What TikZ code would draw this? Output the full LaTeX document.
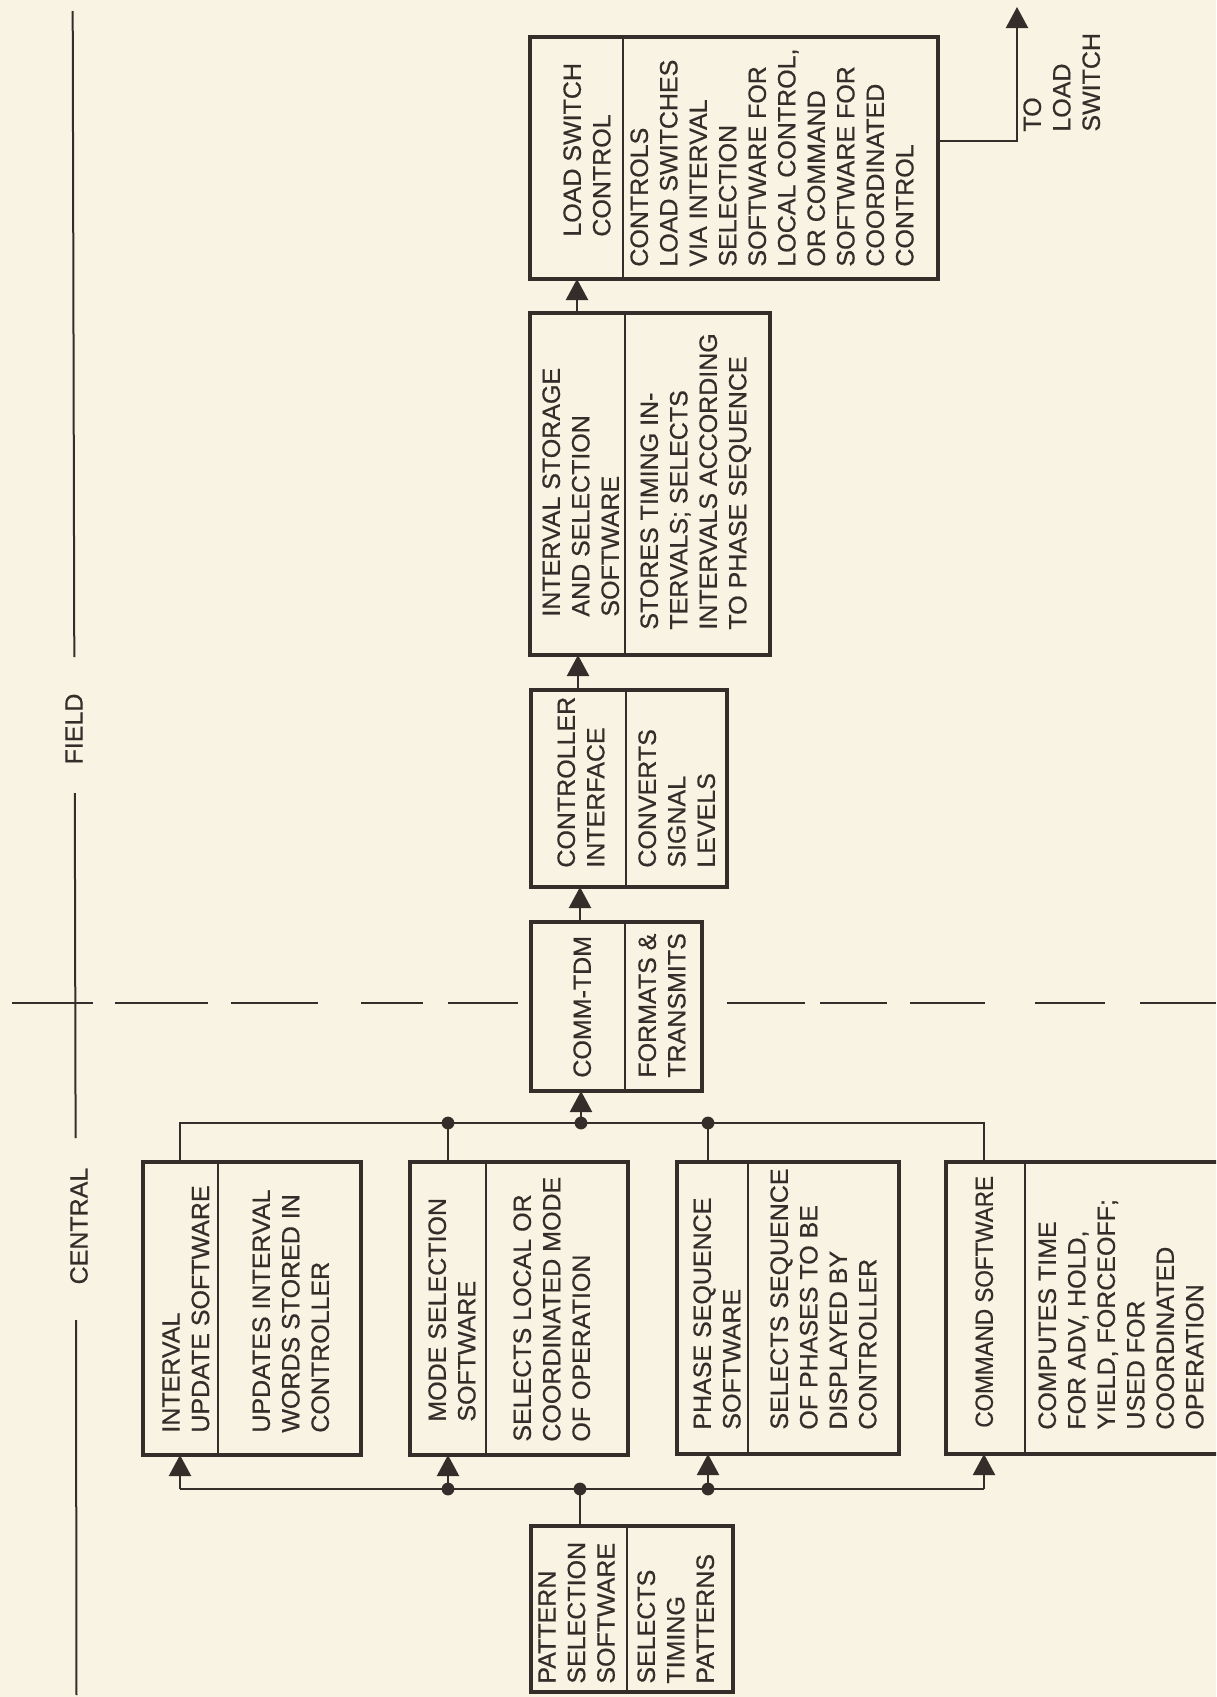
\documentclass[tikz,border=0pt]{standalone}
\usepackage{fontspec}
\usepackage{graphicx}
\setmainfont[FakeBold=0.6]{Liberation Sans}
\usetikzlibrary{arrows.meta,fit}
\definecolor{bg}{RGB}{248,243,226}
\definecolor{ink}{RGB}{52,45,42}
\begin{document}
\begin{tikzpicture}[x=0.5pt,y=-0.5pt,
  box/.style={draw=ink,line width=1.8pt,fill=bg,inner sep=0pt,outer sep=0pt},
  txt/.style={rotate=90,anchor=north west,inner sep=0pt,align=left,text=ink,font=\fontsize{12.5}{14.75}\selectfont},
  lbl/.style={rotate=90,inner sep=0pt,text=ink,font=\fontsize{12.5}{14.75}\selectfont},
  div/.style={draw=ink,line width=1.1pt},
  con/.style={draw=ink,line width=1.1pt},
  arr/.style={con,-{Triangle[length=10.5pt,width=11pt]}},
  dsh/.style={draw=ink,line width=1.2pt},
  vl/.style={draw=ink,line width=1.0pt},
  dot/.style={fill=ink}]
\useasboundingbox (0,0) rectangle (1216,1697);
\fill[bg] (0,0) rectangle (1216,1697);
\clip (0,0) rectangle (1216,1697);

% division lines
\draw[vl] (72.7,11) -- (74.3,657);
\draw[vl] (74.8,793) -- (75.6,1138);
\draw[vl] (76.0,1320) -- (76.5,1695);
\node[lbl] (field) at (74,729) {FIELD};
\node[lbl] (central) at (79,1226) {CENTRAL};
\foreach \a/\b in {12/93,115/208,231/318,361/423,448/518,727/805,820/887,910/985,1035/1105,1140/1216}
  \draw[dsh] (\a,1003) -- (\b,1003);

% boxes
\node[box,fit={(530,37) (938,279)}] (ls) {};
\node[box,fit={(530,313) (770,655)}] (is) {};
\node[box,fit={(531,690) (727,887)}] (ci) {};
\node[box,fit={(531,922) (702,1091)}] (comm) {};
\node[box,fit={(143,1162) (361,1455)}] (iu) {};
\node[box,fit={(410,1162) (628,1455)}] (mode) {};
\node[box,fit={(677,1162) (899,1454)}] (phase) {};
\node[box,fit={(946,1162) (1240,1454)}] (cmd) {};
\node[box,fit={(531,1526) (733,1692)}] (pat) {};

% dividers
\draw[div] (623,0 |- ls.north) -- (623,0 |- ls.south);
\draw[div] (625,0 |- is.north) -- (625,0 |- is.south);
\draw[div] (626,0 |- ci.north) -- (626,0 |- ci.south);
\draw[div] (625,0 |- comm.north) -- (625,0 |- comm.south);
\draw[div] (218,0 |- iu.north) -- (218,0 |- iu.south);
\draw[div] (486,0 |- mode.north) -- (486,0 |- mode.south);
\draw[div] (748,0 |- phase.north) -- (748,0 |- phase.south);
\draw[div] (1025,0 |- cmd.north) -- (1025,0 |- cmd.south);
\draw[div] (627,0 |- pat.north) -- (627,0 |- pat.south);

% texts
\node[txt] (lsT) at (563,237) {LOAD SWITCH\\CONTROL};
\node[txt] (lsD) at (630,267) {CONTROLS\\LOAD SWITCHES\\VIA INTERVAL\\SELECTION\\SOFTWARE FOR\\LOCAL CONTROL,\\OR COMMAND\\SOFTWARE FOR\\COORDINATED\\CONTROL};
\node[txt] (toLS) at (1023,132) {TO\\LOAD\\SWITCH};
\node[txt] (isT) at (542,617) {INTERVAL STORAGE\\AND SELECTION\\SOFTWARE};
\node[txt] (isD) at (640,630) {STORES TIMING IN-\\TERVALS; SELECTS\\INTERVALS ACCORDING\\TO PHASE SEQUENCE};
\node[txt] (ciT) at (557,868) {CONTROLLER\\INTERFACE};
\node[txt] (ciD) at (638,868) {CONVERTS\\SIGNAL\\LEVELS};
\node[txt] (commT) at (573,1078) {COMM-TDM};
\node[txt] (commD) at (638,1078) {FORMATS \&\\TRANSMITS};
\node[txt] (iuT) at (162,1433) {INTERVAL\\UPDATE SOFTWARE};
\node[txt] (iuD) at (252,1433) {UPDATES INTERVAL\\WORDS STORED IN\\CONTROLLER};
\node[txt] (modeT) at (428,1422) {MODE SELECTION\\SOFTWARE};
\node[txt] (modeD) at (513,1442) {SELECTS LOCAL OR\\COORDINATED MODE\\OF OPERATION};
\node[txt] (phaseT) at (693,1430) {PHASE SEQUENCE\\SOFTWARE};
\node[txt] (phaseD) at (770,1430) {SELECTS SEQUENCE\\OF PHASES TO BE\\DISPLAYED BY\\CONTROLLER};
\node[txt] (cmdT) at (975,1428) {\scalebox{0.9}[1]{COMMAND SOFTWARE}};
\node[txt] (cmdD) at (1038,1430) {COMPUTES TIME\\FOR ADV, HOLD,\\YIELD, FORCEOFF;\\USED FOR\\COORDINATED\\OPERATION};
\node[txt] (patT) at (538,1684) {PATTERN\\SELECTION\\SOFTWARE};
\node[txt] (patD) at (637,1684) {SELECTS\\TIMING\\PATTERNS};

% field chain
\draw[arr] (577,0 |- is.north) -- (577,0 |- ls.south);
\draw[arr] (578,0 |- ci.north) -- (578,0 |- is.south);
\draw[arr] (580,0 |- comm.north) -- (580,0 |- ci.south);
\coordinate (out1) at (1017,141);
\coordinate (outtip) at (1017,7);
\draw[arr] (ls.east |- out1) -- (out1) -- (outtip);

% top bus
\coordinate (tbL) at (180,1123);
\coordinate (tbM) at (448,1123);
\coordinate (tbC) at (581,1123);
\coordinate (tbP) at (708,1123);
\coordinate (tbR) at (984,1123);
\draw[con] (iu.north -| tbL) -- (tbL) -- (tbR) -- (cmd.north -| tbR);
\draw[con] (tbM) -- (mode.north -| tbM);
\draw[con] (tbP) -- (phase.north -| tbP);
\draw[arr] (tbC) -- (comm.south -| tbC);
\foreach \p in {tbM,tbC,tbP} \fill[dot] (\p) circle[radius=3.2pt];

% bottom bus
\coordinate (bbL) at (180,1489);
\coordinate (bbM) at (448,1489);
\coordinate (bbC) at (580,1489);
\coordinate (bbP) at (708,1489);
\coordinate (bbR) at (984,1489);
\draw[con] (bbL) -- (bbR);
\draw[arr] (bbL) -- (iu.south -| bbL);
\draw[arr] (bbM) -- (mode.south -| bbM);
\draw[arr] (bbP) -- (phase.south -| bbP);
\draw[arr] (bbR) -- (cmd.south -| bbR);
\draw[con] (pat.north -| bbC) -- (bbC);
\foreach \p in {bbM,bbC,bbP} \fill[dot] (\p) circle[radius=3.2pt];
\end{tikzpicture}
\end{document}
